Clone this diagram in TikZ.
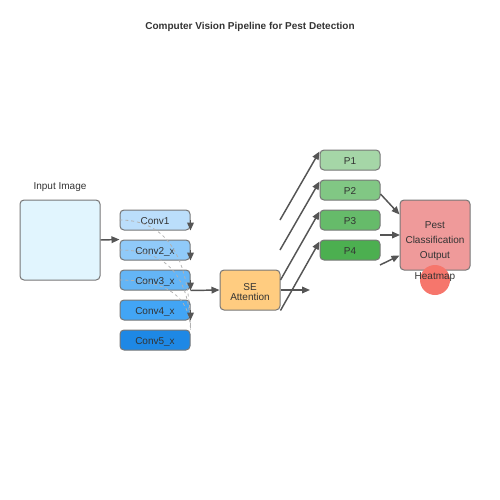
\documentclass[tikz,border=0pt]{standalone}
\usepackage{fontspec}
\setmainfont{Liberation Sans}
\usetikzlibrary{arrows.meta,calc}
\definecolor{txt}{HTML}{333333}
\definecolor{edge}{HTML}{777777}
\definecolor{arrc}{HTML}{555555}
\definecolor{inpc}{HTML}{E1F5FE}
\definecolor{cA}{HTML}{BBDEFB}
\definecolor{cB}{HTML}{90CAF9}
\definecolor{cC}{HTML}{64B5F6}
\definecolor{cD}{HTML}{42A5F5}
\definecolor{cE}{HTML}{1E88E5}
\definecolor{seC}{HTML}{FFCC80}
\definecolor{pA}{HTML}{A5D6A7}
\definecolor{pB}{HTML}{81C784}
\definecolor{pC}{HTML}{66BB6A}
\definecolor{pD}{HTML}{4CAF50}
\definecolor{outC}{HTML}{EF9A9A}
\definecolor{heat}{HTML}{F6766C}
\begin{document}
\begin{tikzpicture}[x=0.75pt,y=-0.75pt,
  every node/.style={font=\fontsize{7.5pt}{9pt}\selectfont, text=txt},
  box/.style={draw=edge, line width=0.75pt, rounded corners=3pt, inner sep=0pt, text height=7.2pt, text depth=0pt},
  convbox/.style={box, minimum width=52.5pt, minimum height=15pt},
  pbox/.style={box, minimum width=45pt, minimum height=15pt},
  arr/.style={draw=arrc, line width=1.1pt, -{Triangle[length=6pt,width=5pt]}},
  skip/.style={draw=gray!60, line width=0.6pt, dash pattern=on 2.2pt off 2.2pt}
]
\useasboundingbox (0,0) rectangle (500,500);
\node[font=\bfseries\fontsize{7.5pt}{9pt}\selectfont] (title) at (250,27) {Computer Vision Pipeline for Pest Detection};

\node (inlbl) at (60,187) {Input Image};
\node[box, fill=inpc, minimum width=60pt, minimum height=60pt] (inp) at (60,240) {};

\node[convbox, fill=cA] (c1) at (155,220) {Conv1};
\node[convbox, fill=cB] (c2) at (155,250) {Conv2\_x};
\node[convbox, fill=cC] (c3) at (155,280) {Conv3\_x};
\node[convbox, fill=cD] (c4) at (155,310) {Conv4\_x};
\node[convbox, fill=cE] (c5) at (155,340) {Conv5\_x};

\draw[skip] (c1.west) .. controls (166.7,220) and (190,256.7) .. (c5.north east);
\draw[skip] (c2.west) .. controls (166.7,250) and (190,276.7) .. (c5.north east);
\draw[skip] (c3.west) .. controls (166.7,280) and (190,296.7) .. (c5.north east);

\draw[arr] (c1.east) -- (c1.south east);
\draw[arr] (c2.east) -- (c2.south east);
\draw[arr] (c3.east) -- (c3.south east);
\draw[arr] (c4.east) -- (c4.south east);

\draw[arr] (inp.east) -- (c2.north west);

\node[box, fill=seC, minimum width=45pt, minimum height=30pt] (se) at (250,290) {};
\node[align=center, inner sep=0pt] (setxt) at (250,292) {SE\\[-1.2pt]Attention};
\draw[arr] (c3.south east) -- (se.west);

\node[pbox, fill=pA] (p1) at (350,160) {P1};
\node[pbox, fill=pB] (p2) at (350,190) {P2};
\node[pbox, fill=pC] (p3) at (350,220) {P3};
\node[pbox, fill=pD] (p4) at (350,250) {P4};

\coordinate (s1) at (280,220);
\coordinate (s2) at (280,250);
\draw[arr] (s1) -- ($(p1.north west)+(0,2)$);
\draw[arr] (s2) -- ($(p2.north west)+(0,2)$);
\draw[arr] (se.north east |- 0,280) -- ($(p3.north west)+(0,2)$);
\draw[arr] (se.south east) -- ($(p4.north west)+(0,2)$);
\coordinate (sefree) at (310,290);
\draw[arr] (se.east) -- (sefree);

\node[box, fill=outC, minimum width=52.5pt, minimum height=52.5pt] (out) at (435,235) {};
\node[align=center, inner sep=0pt] (outtxt) at (435,241.5) {Pest\\[2.25pt]Classification\\[2.25pt]Output};
\node[circle, fill=heat, minimum size=22.5pt, inner sep=0pt] (hm) at (435,280) {};
\node (hmlbl) at (435,277) {Heatmap};

\draw[arr] ($(p2.east)+(0,4)$) -- ($(out.north west)+(0,15)$);
\coordinate (m1) at (380,235);
\coordinate (m2) at (400,235);
\draw[arr] (m1) -- (m2);
\coordinate (m3) at (380,265);
\draw[arr] (m3) -- ($(out.south west)+(0,-15)$);
\end{tikzpicture}
\end{document}
